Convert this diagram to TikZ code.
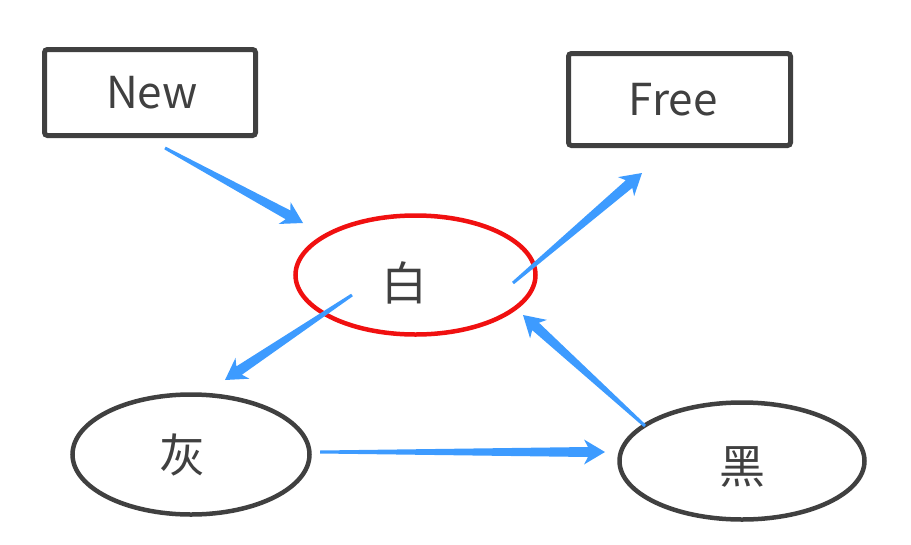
\documentclass[tikz,border=0pt]{standalone}
\usepackage{fontspec}
\setmainfont{Noto Sans CJK SC}
\usetikzlibrary{calc,shapes.geometric}
\definecolor{ink}{HTML}{404040}
\definecolor{abl}{HTML}{3D9BFF}
\definecolor{wred}{HTML}{F01010}
\newcommand\tarrow[2]{%
  \coordinate (tn) at ($(#2)!21pt!(#1)$);
  \coordinate (tm) at ($(#2)!17pt!(#1)$);
  \fill[abl] ($(#1)!1.5pt!90:(#2)$) -- ($(tm)!5pt!90:(#2)$) -- ($(tn)!12.5pt!90:(#2)$)
    -- (#2) -- ($(tn)!12.5pt!-90:(#2)$) -- ($(tm)!5pt!-90:(#2)$) -- ($(#1)!1.5pt!-90:(#2)$) -- cycle;}
\tikzset{
  lbl/.style={text=ink, font=\fontsize{44}{50}\selectfont, inner sep=0pt},
  cjk/.style={text=ink, font=\fontsize{46}{50}\selectfont, inner sep=0pt},
  box/.style={draw=ink, line width=5pt, rounded corners=3pt},
  oval/.style={ellipse, draw=ink, line width=4.5pt},
}
\begin{document}
\begin{tikzpicture}[x=1pt,y=-1pt]
\useasboundingbox (0,0) rectangle (911,544);
\node[box, minimum width=211pt, minimum height=86pt,
  label={[lbl, xshift=2pt]center:New}] (new) at (150,92.5) {};
\node[box, minimum width=222pt, minimum height=92pt,
  label={[lbl, xshift=-6.5pt]center:Free}] (free) at (679.5,99.5) {};
\node[oval, draw=wred, minimum width=240pt, minimum height=119pt,
  label={[cjk, xshift=-11pt, yshift=-7.5pt]center:白}] (white) at (415.5,275) {};
\node[oval, minimum width=237pt, minimum height=120pt,
  label={[cjk, xshift=-9pt]center:灰}] (grey) at (191,454.5) {};
\node[oval, minimum width=245pt, minimum height=117pt,
  label={[cjk, yshift=-6pt]center:黑}] (black) at (742,461) {};
\coordinate (a1s) at (165,148);  \coordinate (a1e) at (303,223);
\coordinate (a2s) at (513,283);  \coordinate (a2e) at (642,173);
\coordinate (a3s) at (352,295);  \coordinate (a3e) at (225,380);
\coordinate (a4s) at (320,452);  \coordinate (a4e) at (605,452);
\coordinate (a5s) at (645,426);  \coordinate (a5e) at (523,315);
\tarrow{a1s}{a1e}
\tarrow{a2s}{a2e}
\tarrow{a3s}{a3e}
\tarrow{a4s}{a4e}
\tarrow{a5s}{a5e}
\end{tikzpicture}
\end{document}
